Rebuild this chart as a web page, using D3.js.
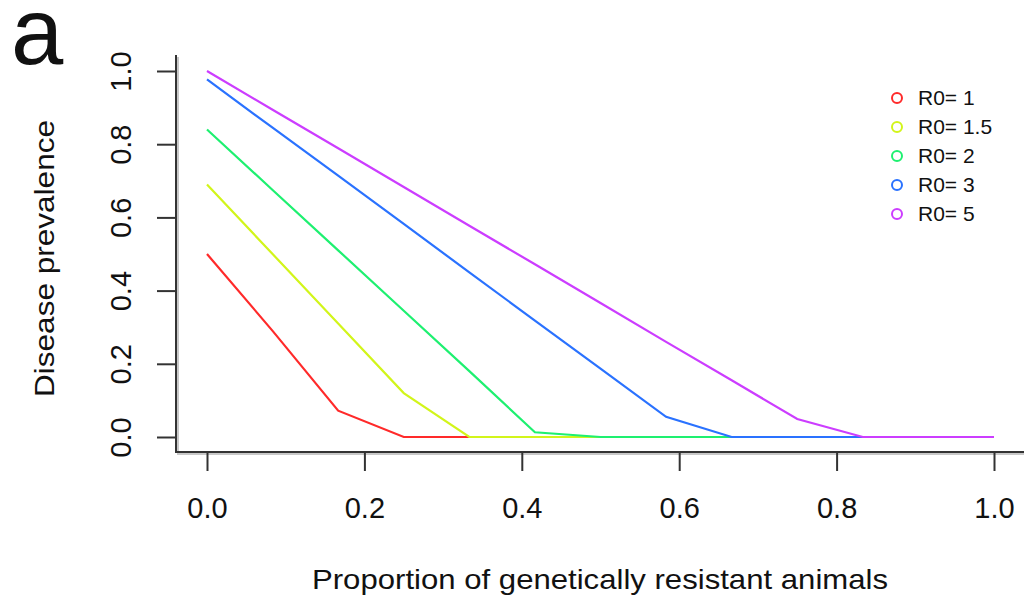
<!DOCTYPE html>
<html>
<head>
<meta charset="utf-8">
<script src="https://cdn.jsdelivr.net/npm/d3@7"></script>
<style>
  body { margin: 0; background: #fff; }
  text { font-family: "Liberation Sans", Arial, sans-serif; fill: #111; }
</style>
</head>
<body>
<svg id="chart" width="1024" height="601"></svg>
<script>
// proportion of resistant animals (grid of 1/12 steps)
var xs = [0, 1/12, 2/12, 3/12, 4/12, 5/12, 6/12, 7/12, 8/12, 9/12, 10/12, 11/12, 1];

// disease prevalence per R0
var r0_1   = [0.50, 0.29, 0.072, 0, 0, 0, 0, 0, 0, 0, 0, 0, 0];
var r0_1_5 = [0.69, 0.50, 0.31, 0.12, 0, 0, 0, 0, 0, 0, 0, 0, 0];
var r0_2   = [0.84, 0.675, 0.51, 0.345, 0.18, 0.013, 0, 0, 0, 0, 0, 0, 0];
var r0_3   = [0.977, 0.845, 0.714, 0.582, 0.45, 0.318, 0.187, 0.055, 0, 0, 0, 0, 0];
var r0_5   = [1.0, 0.894, 0.789, 0.683, 0.577, 0.472, 0.366, 0.26, 0.155, 0.049, 0, 0, 0];

var seriesNames = ["R0= 1", "R0= 1.5", "R0= 2", "R0= 3", "R0= 5"];
var seriesVals = [r0_1, r0_1_5, r0_2, r0_3, r0_5];
var colors = ["#ff2a2a", "#d2f51a", "#1ef070", "#2a72ff", "#cc3dff"];

var xTicks = [0, 0.2, 0.4, 0.6, 0.8, 1.0];
var yTicks = [0, 0.2, 0.4, 0.6, 0.8, 1.0];

var svg = d3.select("#chart");

var x = d3.scaleLinear().domain([0, 1]).range([207, 994]);
var y = d3.scaleLinear().domain([0, 1]).range([437, 71]);

var axLeft = 176, axBottom = 452;

// panel letter
svg.append("text")
  .attr("x", 11).attr("y", 64)
  .style("font-size", "94px")
  .text("a");

// box lines (L shape) with a faint shadow
var frame = svg.append("g");
frame.append("path")
  .attr("d", "M" + (axLeft + 2) + ",57 V" + (axBottom + 2) + " H1024")
  .attr("fill", "none").attr("stroke", "#c8c8c8").attr("stroke-width", 2);
frame.append("path")
  .attr("d", "M" + axLeft + ",55 V" + axBottom + " H1024")
  .attr("fill", "none").attr("stroke", "#333").attr("stroke-width", 2);

// x axis
var gx = svg.append("g")
  .attr("transform", "translate(0," + axBottom + ")")
  .call(d3.axisBottom(x).tickValues(xTicks).tickSize(19).tickPadding(26)
    .tickFormat(d3.format(".1f")));
gx.select(".domain").remove();
gx.selectAll(".tick line").attr("stroke", "#333").attr("stroke-width", 2);
gx.selectAll(".tick text")
  .style("font-size", "29px")
  .attr("fill", "#111");

// y axis
var gy = svg.append("g")
  .attr("transform", "translate(" + axLeft + ",0)")
  .call(d3.axisLeft(y).tickValues(yTicks).tickSize(19)
    .tickFormat(d3.format(".1f")));
gy.select(".domain").remove();
gy.selectAll(".tick line").attr("stroke", "#333").attr("stroke-width", 2);
gy.selectAll(".tick text")
  .attr("x", null).attr("dy", null)
  .attr("text-anchor", "middle")
  .attr("transform", "translate(-45,0) rotate(-90)")
  .style("font-size", "29px")
  .attr("fill", "#111");

// axis titles
svg.append("text")
  .attr("x", 312).attr("y", 589)
  .attr("textLength", 576)
  .attr("lengthAdjust", "spacingAndGlyphs")
  .style("font-size", "28px")
  .text("Proportion of genetically resistant animals");

svg.append("text")
  .attr("transform", "translate(54,397) rotate(-90)")
  .attr("textLength", 277)
  .attr("lengthAdjust", "spacingAndGlyphs")
  .style("font-size", "28px")
  .text("Disease prevalence");

// lines
var line = d3.line()
  .x((d, i) => x(xs[i]))
  .y(d => y(d));

svg.append("g").selectAll("path")
  .data(seriesVals)
  .enter().append("path")
  .attr("d", d => line(d))
  .attr("fill", "none")
  .attr("stroke", (d, i) => colors[i])
  .attr("stroke-width", 2.2);

// legend
var leg = svg.append("g").selectAll("g")
  .data(seriesNames)
  .enter().append("g")
  .attr("transform", (d, i) => "translate(897," + (98 + i * 29) + ")");
leg.append("circle")
  .attr("r", 5)
  .attr("fill", "none")
  .attr("stroke", (d, i) => colors[i])
  .attr("stroke-width", 2);
leg.append("text")
  .attr("x", 21).attr("y", 7)
  .style("font-size", "21px")
  .attr("fill", "#222")
  .text(d => d);
</script>
</body>
</html>
